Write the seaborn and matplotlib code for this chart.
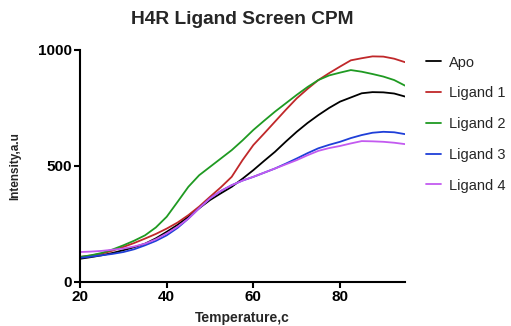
import numpy as np
import pandas as pd
import matplotlib
matplotlib.use("Agg")
import matplotlib.pyplot as plt
import seaborn as sns

temperature = [20, 22.5, 25, 27.5, 30, 32.5, 35, 37.5, 40, 42.5, 45, 47.5, 50, 52.5, 55,
               57.5, 60, 62.5, 65, 67.5, 70, 72.5, 75, 77.5, 80, 82.5, 85, 87.5, 90, 92.5, 95]
apo = [100, 107, 115, 125, 137, 150, 165, 188, 216, 246, 281, 318, 353, 382, 410, 445, 482,
       522, 561, 605, 647, 685, 719, 750, 777, 795, 813, 818, 817, 812, 799]
ligand1 = [108, 114, 122, 135, 151, 168, 187, 207, 230, 256, 288, 325, 367, 408, 453, 525, 590,
           640, 691, 742, 791, 832, 870, 900, 928, 955, 964, 972, 971, 962, 947]
ligand2 = [108, 115, 125, 140, 158, 178, 201, 235, 281, 345, 410, 460, 496, 532, 568, 610, 655,
           695, 734, 770, 806, 840, 870, 890, 902, 913, 906, 896, 885, 870, 846]
ligand3 = [104, 109, 115, 121, 129, 141, 158, 177, 201, 233, 273, 318, 360, 392, 417, 437, 453,
           471, 489, 510, 532, 555, 576, 591, 604, 620, 633, 643, 647, 645, 637]
ligand4 = [129, 131, 134, 139, 144, 153, 165, 184, 209, 238, 273, 318, 360, 392, 417, 437, 453,
           471, 489, 507, 525, 546, 565, 577, 586, 597, 607, 606, 604, 600, 594]

series_names = ["Apo", "Ligand 1", "Ligand 2", "Ligand 3", "Ligand 4"]
series_values = [apo, ligand1, ligand2, ligand3, ligand4]
colors = ["#000000", "#c0282a", "#1f9a22", "#1f3fd8", "#c35af0"]

rows = []
for name, vals in zip(series_names, series_values):
    for t, v in zip(temperature, vals):
        rows.append({"Temperature": t, "Intensity": v, "Sample": name})
df = pd.DataFrame(rows)

sns.set_theme(style="ticks")
plt.rcParams['font.family'] = ['Liberation Sans', 'DejaVu Sans']

fig = plt.figure(figsize=(5.11, 3.26), dpi=100)
ax = fig.add_axes([0.1566, 0.135, 0.636, 0.712])

sns.lineplot(data=df, x="Temperature", y="Intensity", hue="Sample",
             palette=dict(zip(series_names, colors)), hue_order=series_names,
             linewidth=1.3, ax=ax, legend=True)

ax.set_xlim(20, 95)
ax.set_ylim(0, 1000)
ax.set_xticks([20, 40, 60, 80])
ax.set_yticks([0, 500, 1000])
for s in ["top", "right"]:
    ax.spines[s].set_visible(False)
for s in ["left", "bottom"]:
    ax.spines[s].set_linewidth(1.5)
    ax.spines[s].set_color("black")
ax.tick_params(axis="both", direction="out", length=4, width=1.5, colors="black",
               labelsize=11, pad=2)
for lab in ax.get_xticklabels() + ax.get_yticklabels():
    lab.set_fontweight("bold")

ax.set_xlabel("Temperature,c", fontsize=10, fontweight="bold", labelpad=5)
ax.set_ylabel("Intensity,a.u", fontsize=8.5, fontweight="bold", labelpad=12)
fig.text(0.475, 0.94, "H4R Ligand Screen CPM", ha="center", va="center",
         fontsize=13.8, fontweight="bold")

leg = ax.legend(loc="upper left", bbox_to_anchor=(0.808, 0.87),
                bbox_transform=fig.transFigure, frameon=False, fontsize=10.5,
                handlelength=1.05, handletextpad=0.55, labelspacing=1.15, title=None)

fig.savefig("out.png", dpi=100)
